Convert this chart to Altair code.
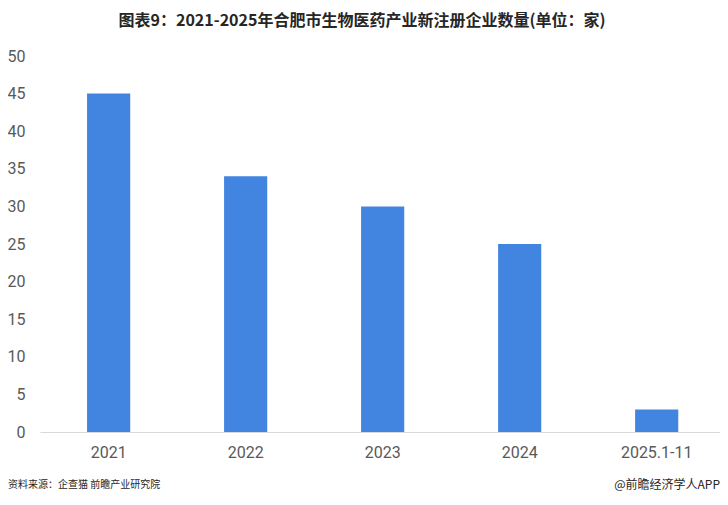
import altair as alt
import pandas as pd

categories = ["2021", "2022", "2023", "2024", "2025.1-11"]
values = [45, 34, 30, 25, 3]
y_ticks = [0, 5, 10, 15, 20, 25, 30, 35, 40, 45, 50]

title_text = "图表9：2021-2025年合肥市生物医药产业新注册企业数量(单位：家)"
source_text = "资料来源：企查猫 前瞻产业研究院"
brand_text = "@前瞻经济学人APP"

df = pd.DataFrame({"year": categories, "count": values})

bars = alt.Chart(df).mark_bar(color="#4285e0").encode(
    x=alt.X("year:N", sort=categories, title=None,
            scale=alt.Scale(paddingInner=0.685, paddingOuter=0.324, align=0.53),
            axis=alt.Axis(labelAngle=0, labelFontSize=16, labelColor="#595959",
                          labelFont="Roboto", ticks=False, labelPadding=12,
                          domainColor="#d9d9d9", domainWidth=1, grid=False)),
    y=alt.Y("count:Q", title=None,
            scale=alt.Scale(domain=[0, 50], nice=False),
            axis=alt.Axis(values=y_ticks, labelFontSize=16, labelColor="#595959",
                          labelFont="Roboto", ticks=False, domain=False,
                          grid=False, labelPadding=15)),
)

title = alt.Chart(pd.DataFrame({"t": [title_text]})).mark_text(
    font="Noto Sans CJK SC", fontSize=16, fontWeight="bold", color="#262626",
    align="center", baseline="middle"
).encode(text="t:N", x=alt.value(322), y=alt.value(-35))

source = alt.Chart(pd.DataFrame({"t": [source_text]})).mark_text(
    font="Noto Sans CJK SC", fontSize=10, color="#262626",
    align="left", baseline="middle"
).encode(text="t:N", x=alt.value(-32), y=alt.value(429))

brand = alt.Chart(pd.DataFrame({"t": [brand_text]})).mark_text(
    font="Noto Sans CJK SC", fontSize=12, color="#262626",
    align="right", baseline="middle"
).encode(text="t:N", x=alt.value(680), y=alt.value(429))

chart = alt.layer(bars, title, source, brand).properties(
    width=680, height=376,
    autosize=alt.AutoSizeParams(type="none"),
    padding={"left": 32, "top": 48, "right": 0, "bottom": 64},
).configure(background="white").configure_view(stroke=None)

chart.save("out.html", embed_options={"renderer": "svg", "actions": False})
